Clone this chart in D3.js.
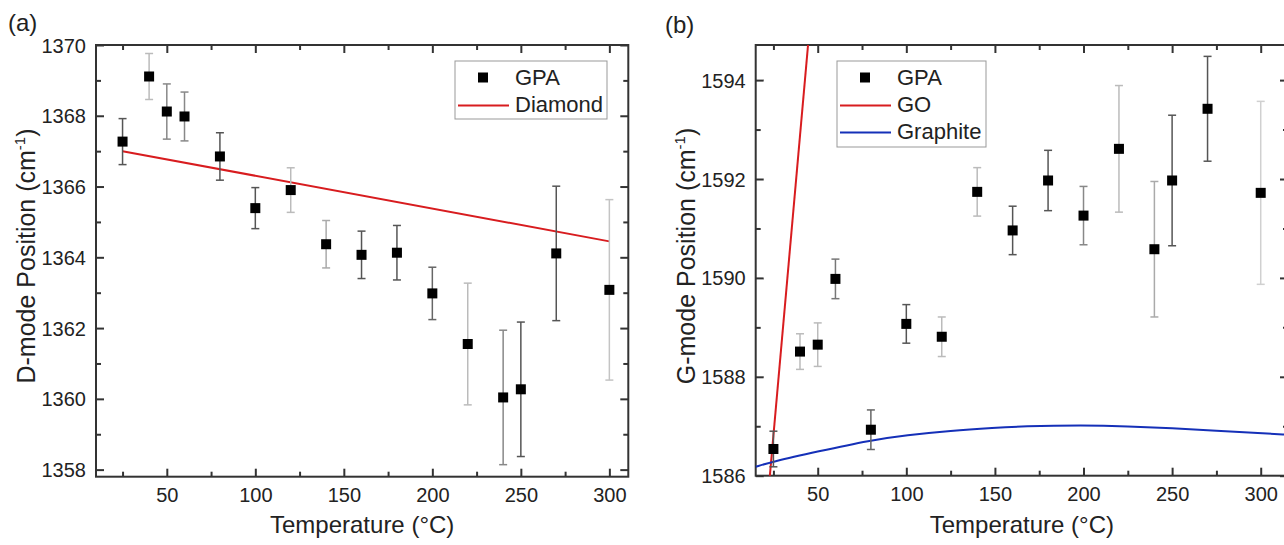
<!DOCTYPE html>
<html><head><meta charset="utf-8">
<script src="https://cdn.jsdelivr.net/npm/d3@7"></script>
<style>
html,body{margin:0;padding:0;background:#fff;}
text{font-family:"Liberation Sans",Arial,sans-serif;fill:#222;}
</style></head>
<body>
<svg id="chart" width="1284" height="545"></svg>
<script>
// ---------- data ----------
const temps = [25, 40, 50, 60, 80, 100, 120, 140, 160, 180, 200, 220, 240, 250, 270, 300];

const dMode    = [1367.27, 1369.11, 1368.12, 1367.98, 1366.85, 1365.39, 1365.90, 1364.37, 1364.07, 1364.13, 1362.98, 1361.55, 1360.04, 1360.27, 1364.11, 1363.08];
const dModeErr = [0.65, 0.65, 0.78, 0.69, 0.67, 0.58, 0.63, 0.67, 0.67, 0.77, 0.74, 1.72, 1.90, 1.90, 1.90, 2.55];

const gMode    = [1586.54, 1588.51, 1588.65, 1589.98, 1586.93, 1589.07, 1588.81, 1591.74, 1590.96, 1591.97, 1591.26, 1592.61, 1590.58, 1591.97, 1593.42, 1591.72];
const gModeErr = [0.36, 0.36, 0.44, 0.40, 0.40, 0.39, 0.40, 0.49, 0.49, 0.61, 0.59, 1.28, 1.37, 1.32, 1.06, 1.85];

// reference lines
const diamondT = [25, 300];
const diamondV = [1367.0, 1364.45];
const goT = [22, 46];
const goV = [1585.6, 1595.3];
const graphiteT = [15, 24, 50, 80, 100, 125, 150, 165, 200, 225, 250, 275, 300, 315];
const graphiteV = [1586.18, 1586.28, 1586.49, 1586.72, 1586.82, 1586.91, 1586.97, 1587.00, 1587.02, 1587.00, 1586.96, 1586.91, 1586.86, 1586.83];

// tick labels
const xTicks = [50, 100, 150, 200, 250, 300];
const xMinor = [25, 75, 125, 175, 225, 275];
const yTicksA = [1358, 1360, 1362, 1364, 1366, 1368, 1370];
const yMinorA = [1359, 1361, 1363, 1365, 1367, 1369];
const yTicksB = [1586, 1588, 1590, 1592, 1594];
const yMinorB = [1587, 1589, 1591, 1593];

// error-bar grey shades (style)
const errShadeA = ["#555","#bbb","#888","#888","#555","#555","#bbb","#aaa","#555","#555","#666","#bbb","#888","#555","#555","#c4c4c4"];
const errShadeB = ["#555","#bbb","#bbb","#777","#666","#555","#bbb","#bbb","#555","#555","#888","#bbb","#aaa","#555","#555","#d0d0d0"];

// ---------- drawing ----------
const svg = d3.select("#chart");
svg.append("rect").attr("width",1284).attr("height",545).attr("fill","#fff");
const RED = "#d81c1f", BLUE = "#1530b8", AX = "#333";
const fmt = d3.format("d");

function panel(cfg){
  const g = svg.append("g");
  const x = d3.scaleLinear().domain(cfg.xDom).range(cfg.xRange);
  const y = d3.scaleLinear().domain(cfg.yDom).range(cfg.yRange);
  const [x0,x1] = cfg.xRange, [y1,y0] = cfg.yRange;
  const clipId = "clip"+cfg.id;
  svg.append("clipPath").attr("id",clipId).append("rect")
     .attr("x",x0).attr("y",y0).attr("width",x1-x0).attr("height",y1-y0);

  const mk = (ax, scale, ticks, len) => ax(scale).tickValues(ticks).tickSize(len).tickSizeOuter(0).tickFormat(fmt);
  function axisSet(tr, axFn, scale, major, minor, showLabels){
    const a = g.append("g").attr("transform",tr).call(mk(axFn, scale, major, 8));
    if(!showLabels) a.selectAll("text").remove();
    const m = g.append("g").attr("transform",tr).call(mk(axFn, scale, minor, 5));
    m.selectAll("text").remove();
    [a,m].forEach(s=>{ s.select(".domain").remove(); s.selectAll("line").attr("stroke",AX).attr("stroke-width",2); });
    return a;
  }
  const bot = axisSet(`translate(0,${y1})`, d3.axisTop, x, xTicks, xMinor, true);
  bot.selectAll("text").attr("y",25).attr("dy",0).attr("font-size",20).attr("fill","#222");
  axisSet(`translate(0,${y0})`, d3.axisBottom, x, xTicks, xMinor, false);
  const left = axisSet(`translate(${x0},0)`, d3.axisRight, y, cfg.yTicks, cfg.yMinor, true);
  left.selectAll("text").attr("x",-10).attr("dy","0.35em").attr("text-anchor","end").attr("font-size",20).attr("fill","#222");
  axisSet(`translate(${x1},0)`, d3.axisLeft, y, cfg.yTicks, cfg.yMinor, false);

  g.append("rect").attr("x",x0).attr("y",y0).attr("width",x1-x0).attr("height",y1-y0)
    .attr("fill","none").attr("stroke",AX).attr("stroke-width",2);

  const plot = g.append("g").attr("clip-path",`url(#${clipId})`);
  cfg.lines.forEach(L=>{
    const line = d3.line().x(d=>x(d[0])).y(d=>y(d[1])).curve(L.curve||d3.curveLinear);
    plot.append("path").datum(d3.zip(L.t,L.v)).attr("d",line)
      .attr("fill","none").attr("stroke",L.color).attr("stroke-width",2);
  });

  const pts = temps.map((t,i)=>({t, v:cfg.vals[i], e:cfg.errs[i], c:cfg.shades[i]}));
  const eb = g.append("g");
  pts.forEach(p=>{
    const cx = x(p.t), ya = y(p.v+p.e), yb = y(p.v-p.e);
    eb.append("line").attr("x1",cx).attr("x2",cx).attr("y1",ya).attr("y2",yb).attr("stroke",p.c).attr("stroke-width",1.5);
    [ya,yb].forEach(yy=>eb.append("line").attr("x1",cx-4).attr("x2",cx+4).attr("y1",yy).attr("y2",yy).attr("stroke",p.c).attr("stroke-width",1.5));
  });
  g.append("g").selectAll("rect").data(pts).join("rect")
    .attr("x",d=>x(d.t)-5).attr("y",d=>y(d.v)-5).attr("width",10).attr("height",10).attr("fill","#000");

  g.append("text").attr("x",(x0+x1)/2).attr("y",533).attr("text-anchor","middle")
    .attr("font-size",24).text("Temperature (°C)");
  const yt = g.append("text").attr("transform",`translate(${x0-61},${cfg.yTitleC}) rotate(-90)`)
    .attr("text-anchor","middle").attr("font-size",25);
  yt.append("tspan").text(cfg.yTitle+" (cm");
  yt.append("tspan").attr("font-size",15).attr("dy",-10).text("-1");
  yt.append("tspan").attr("dy",10).text(")");
  g.append("text").attr("x",cfg.labelX).attr("y",cfg.labelY).attr("font-size",24).text(cfg.label);

  const lg = cfg.legend;
  g.append("rect").attr("x",lg.x).attr("y",lg.y).attr("width",lg.w).attr("height",lg.h)
    .attr("fill","#fff").attr("stroke","#999").attr("stroke-width",1);
  lg.items.forEach((it,i)=>{
    const base = lg.y + 24 + i*27;
    const cy = base - 7.5;
    if(it.type==="sq"){
      g.append("rect").attr("x",lg.x+28-5).attr("y",cy-5).attr("width",10).attr("height",10).attr("fill","#000");
    } else {
      g.append("line").attr("x1",lg.x+3).attr("x2",lg.x+54).attr("y1",cy+1).attr("y2",cy+1)
        .attr("stroke",it.color).attr("stroke-width",2);
    }
    g.append("text").attr("x",lg.x+60).attr("y",base).attr("font-size",22).text(it.name);
  });
}

panel({
  id:"a", xDom:[10,310.7], xRange:[96,628.3], yDom:[1357.8,1370], yRange:[476.7,45],
  yTicks:yTicksA, yMinor:yMinorA, vals:dMode, errs:dModeErr, shades:errShadeA,
  lines:[{t:diamondT, v:diamondV, color:RED}],
  yTitle:"D-mode Position", yTitleC:256, label:"(a)", labelX:8, labelY:31,
  legend:{x:455, y:61, w:152, h:58, items:[{type:"sq",name:"GPA"},{type:"ln",name:"Diamond",color:RED}]}
});
panel({
  id:"b", xDom:[15,315.4], xRange:[755.7,1288], yDom:[1586,1594.71], yRange:[475.7,45],
  yTicks:yTicksB, yMinor:yMinorB, vals:gMode, errs:gModeErr, shades:errShadeB,
  lines:[{t:goT, v:goV, color:RED},{t:graphiteT, v:graphiteV, color:BLUE, curve:d3.curveBasis}],
  yTitle:"G-mode Position", yTitleC:256, label:"(b)", labelX:665, labelY:33,
  legend:{x:837, y:61, w:149, h:86, items:[{type:"sq",name:"GPA"},{type:"ln",name:"GO",color:RED},{type:"ln",name:"Graphite",color:BLUE}]}
});
</script>
</body></html>
